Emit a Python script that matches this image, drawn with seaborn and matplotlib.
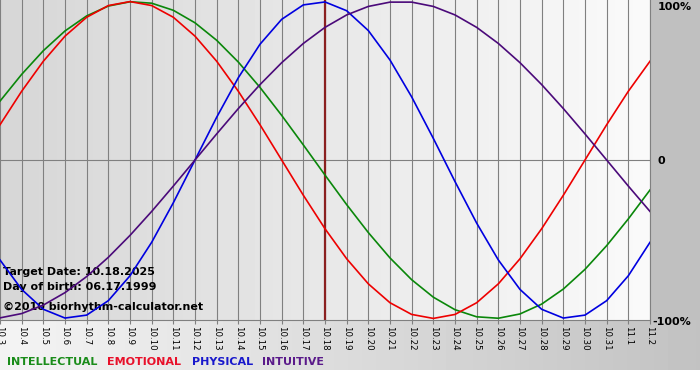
import numpy as np
import pandas as pd
import matplotlib
matplotlib.use("Agg")
import matplotlib.pyplot as plt
import matplotlib.transforms as mtransforms
import seaborn as sns

# ---------------- data ----------------
dates = ["10.3", "10.4", "10.5", "10.6", "10.7", "10.8", "10.9", "10.10", "10.11",
         "10.12", "10.13", "10.14", "10.15", "10.16", "10.17", "10.18", "10.19",
         "10.20", "10.21", "10.22", "10.23", "10.24", "10.25", "10.26", "10.27",
         "10.28", "10.29", "10.30", "10.31", "11.1", "11.2"]

intellectual = [0.3717, 0.5406, 0.6901, 0.8146, 0.9096, 0.9718, 0.9989, 0.9898,
                0.9450, 0.8660, 0.7557, 0.6182, 0.4582, 0.2817, 0.0951, -0.0951,
                -0.2817, -0.4582, -0.6182, -0.7557, -0.8660, -0.9450, -0.9898,
                -0.9989, -0.9718, -0.9096, -0.8146, -0.6901, -0.5406, -0.3717, -0.1893]

emotional = [0.2225, 0.4339, 0.6235, 0.7818, 0.9010, 0.9749, 1.0, 0.9749, 0.9010,
             0.7818, 0.6235, 0.4339, 0.2225, 0.0, -0.2225, -0.4339, -0.6235,
             -0.7818, -0.9010, -0.9749, -1.0, -0.9749, -0.9010, -0.7818, -0.6235,
             -0.4339, -0.2225, 0.0, 0.2225, 0.4339, 0.6235]

physical = [-0.6310, -0.8170, -0.9423, -0.9977, -0.9791, -0.8879, -0.7308, -0.5196,
            -0.2698, 0.0, 0.2698, 0.5196, 0.7308, 0.8879, 0.9791, 0.9977, 0.9423,
            0.8170, 0.6310, 0.3984, 0.1362, -0.1362, -0.3984, -0.6310, -0.8170,
            -0.9423, -0.9977, -0.9791, -0.8879, -0.7308, -0.5196]

intuitive = [-0.9966, -0.9694, -0.9158, -0.8372, -0.7357, -0.6142, -0.4759, -0.3247,
             -0.1646, 0.0, 0.1646, 0.3247, 0.4759, 0.6142, 0.7357, 0.8372, 0.9158,
             0.9694, 0.9966, 0.9966, 0.9694, 0.9158, 0.8372, 0.7357, 0.6142,
             0.4759, 0.3247, 0.1646, 0.0, -0.1646, -0.3247]

series_names = ["INTELLECTUAL", "EMOTIONAL", "PHYSICAL", "INTUITIVE"]
series_values = [intellectual, emotional, physical, intuitive]
colors = {"INTELLECTUAL": "#0a870a", "EMOTIONAL": "#ee0000",
          "PHYSICAL": "#0000e0", "INTUITIVE": "#4b0a7a"}
legend_colors = {"INTELLECTUAL": "#1a8c1a", "EMOTIONAL": "#e8102a",
                 "PHYSICAL": "#1818cc", "INTUITIVE": "#5a1a8a"}

target_date = "10.18"
info_lines = ["Target Date: 10.18.2025", "Day of birth: 06.17.1999",
              "\u00a92010 biorhythm-calculator.net"]
y_ticks = [1, 0, -1]
y_labels = ["100%", "0", "-100%"]

# ---------------- figure ----------------
W, H = 700, 380
fig = plt.figure(figsize=(W / 100, H / 100), dpi=100)

# background gradients
bg = np.ones((H, W))
bg[0:320, 0:651] = np.linspace(0xd6, 0xfa, 651)[None, :] / 255.0
bg[0:320, 651:] = 0xc0 / 255.0
bg[320:370, :] = np.linspace(0xf4, 0xc2, W)[None, :] / 255.0
bg[370:, :] = 1.0
bax = fig.add_axes([0, 0, 1, 1], zorder=0)
bax.imshow(bg, cmap="gray", vmin=0, vmax=1, aspect="auto", interpolation="bilinear")
bax.set_axis_off()

ax = fig.add_axes([0, 60 / H, 650 / W, 320 / H], zorder=1)
ax.set_facecolor("none")

df = pd.DataFrame({
    "day": np.tile(np.arange(len(dates)), len(series_names)),
    "value": np.concatenate(series_values),
    "series": np.repeat(series_names, len(dates)),
})

sns.lineplot(data=df, x="day", y="value", hue="series", palette=colors,
             hue_order=series_names, estimator=None, legend=False,
             linewidth=1.2, ax=ax, zorder=3)

ax.set_xlim(0, len(dates) - 1)
ax.set_ylim(-1.01, 1.01)
ax.set_xlabel("")
ax.set_ylabel("")

# grid & reference lines
ax.set_xticks(np.arange(len(dates)))
ax.set_xticklabels(dates, rotation=270, fontsize=6.2, family="DejaVu Sans")
ax.grid(axis="x", color="#808080", linewidth=0.8, zorder=1)
ax.grid(axis="y", visible=False)
ax.axhline(0, color="#808080", linewidth=0.8, zorder=1)
ax.axvline(dates.index(target_date), color="#8b2020", linewidth=1.6, zorder=2)
ax.set_axisbelow(True)

ax.tick_params(axis="x", length=3, width=0.8, color="#808080", pad=1.5)

ax.yaxis.tick_right()
ax.set_yticks(y_ticks)
ax.set_yticklabels(y_labels, fontsize=8, fontweight="bold")
ax.tick_params(axis="y", length=0, pad=5.5)
for lab, v in zip(ax.get_yticklabels(), y_ticks):
    if v > 0:
        lab.set_va("top")
    elif v < 0:
        lab.set_transform(lab.get_transform() +
                          mtransforms.ScaledTranslation(-5 / 100, -3 / 100,
                                                        fig.dpi_scale_trans))

for side in ["left", "top"]:
    ax.spines[side].set_visible(False)
for side in ["right", "bottom"]:
    ax.spines[side].set_color("#808080")
    ax.spines[side].set_linewidth(0.8)

# info text
info_y = [272, 287, 307]
for txt, py in zip(info_lines, info_y):
    ax.text(3 / 650, (320 - py) / 320, txt, transform=ax.transAxes, fontsize=8,
            fontweight="bold", color="black", va="center", ha="left", zorder=2)

# colored legend
legend_x = [7, 107, 192, 262]
for name, px in zip(series_names, legend_x):
    fig.text(px / W, 1 - 362 / H, name, color=legend_colors[name], fontsize=8,
             fontweight="bold", va="center", ha="left")

fig.savefig("out.png", dpi=100)
